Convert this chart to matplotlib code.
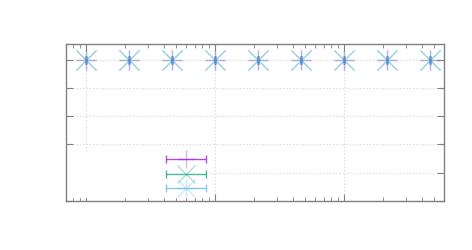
import numpy as np
import matplotlib
matplotlib.use("Agg")
import matplotlib.pyplot as plt
from matplotlib.colors import to_rgba
from matplotlib.path import Path
from matplotlib.container import ErrorbarContainer
from matplotlib.legend_handler import HandlerErrorbar

# données
x_vals = [1.0, 2.154, 4.642, 10.0, 21.54, 46.42, 100.0, 215.4, 464.2]
y_purple = [5, 5, 5, 5, 5, 5, 5, 5, 5]
y_green = [5, 5, 5, 5, 5, 5, 5, 5, 5]
y_blue = [5, 5, 5, 5, 5, 5, 5, 5, 5]
x_err = [0, 0, 0, 0, 0, 0, 0, 0, 0]
labels = [" ", " ", " "]
colors = ["#9400d3", "#009e73", "#56b4e9"]

# marqueur "asterisque" façon gnuplot (+ et x superposés)
asterisk = Path(
    [(-1, 0), (1, 0), (0, -1), (0, 1), (-1, -1), (1, 1), (-1, 1), (1, -1)],
    [Path.MOVETO, Path.LINETO] * 4,
)

fig = plt.figure(figsize=(4.72, 2.5), dpi=100)
ax = fig.add_axes([66 / 472, 1 - 201 / 250, (444 - 66) / 472, (201 - 44) / 250])

handles = []
for y, c, m in zip([y_purple, y_green, y_blue], colors, ["+", "x", asterisk]):
    h = ax.errorbar(x_vals, y, xerr=x_err, marker=m, linestyle="none",
                    markeredgecolor=to_rgba(c, 0.3), markerfacecolor="none",
                    ecolor=to_rgba(c, 0.7), markersize=15, markeredgewidth=1.0,
                    elinewidth=1.0, capsize=3)
    handles.append(h)

ax.set_xscale("log")
ax.set_xlim(0.70, 596)
ax.set_ylim(0, 5.55)
ax.set_yticks([0, 1, 2, 3, 4, 5])
ax.set_xticklabels([], minor=True)
ax.set_xticklabels([])
ax.set_yticklabels([])

ax.tick_params(which="both", direction="in", top=True, right=True, colors="#808080")
ax.tick_params(which="major", length=5)
ax.tick_params(which="minor", length=3)
for s in ax.spines.values():
    s.set_color("#808080")
    s.set_linewidth(1.0)
    s.set_zorder(6)

ax.grid(True, which="major", linestyle=(0, (1, 2)), color="#d4d4d4", linewidth=0.8)
ax.set_axisbelow(True)

leg = ax.legend(handles, labels, loc="lower left", bbox_to_anchor=(0, 4 / 157),
                borderaxespad=0, frameon=True,
                fontsize=10, handlelength=3.0, markerscale=0.85, labelspacing=0.05,
                borderpad=0.05, handletextpad=6.78, markerfirst=False, fancybox=False,
                handler_map={ErrorbarContainer: HandlerErrorbar(xerr_size=1.45)})
leg.get_frame().set_facecolor("white")
leg.get_frame().set_edgecolor("white")
leg.get_frame().set_alpha(1.0)

fig.savefig("out.png", dpi=100)
